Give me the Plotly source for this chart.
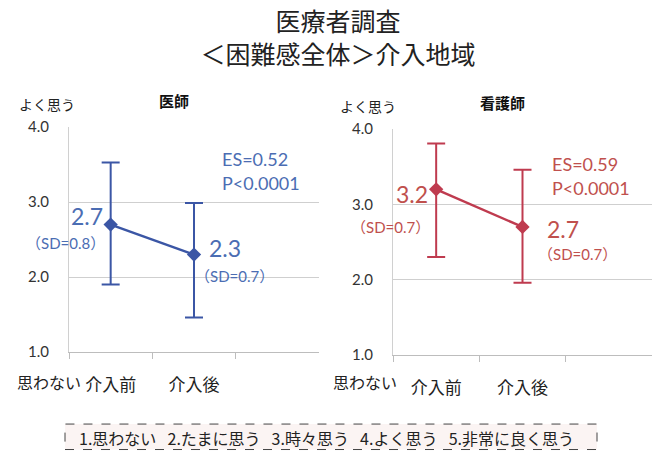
import plotly.graph_objects as go

# ---- data -------------------------------------------------------------
phases = ["介入前", "介入後"]
groups = ["医師", "看護師"]

doc_mean = [2.7, 2.3]
doc_sd = [0.8, 0.7]
doc_upper = [3.53, 2.99]
doc_lower = [1.90, 1.46]

nurse_mean = [3.2, 2.7]
nurse_sd = [0.7, 0.7]
nurse_upper = [3.81, 3.46]
nurse_lower = [2.30, 1.96]

effect_sizes = [0.52, 0.59]
p_values = ["P<0.0001", "P<0.0001"]

y_ticks = [1.0, 2.0, 3.0, 4.0]
scale_labels = ["1.思わない", "2.たまに思う", "3.時々思う", "4.よく思う", "5.非常に良く思う"]

# ---- styling ----------------------------------------------------------
W, H = 661, 458
JP = "Noto Sans CJK JP"
NUM = "Lato, Noto Sans CJK JP"
BLUE_LINE, BLUE_TEXT = "#3B56A5", "#4B6DB3"
RED_LINE, RED_TEXT = "#BF3B4F", "#C0504D"
GRID = "#CFCFCF"

categories = phases + [" "]


def px(xp):
    return xp / W


def py(yp):
    return 1 - yp / H


fig = go.Figure()

panels = [
    dict(mean=doc_mean, sd=doc_sd, up=doc_upper, lo=doc_lower, line=BLUE_LINE,
         text=BLUE_TEXT, xa="x", ya="y", xd=[69, 319], yd=[122, 356]),
    dict(mean=nurse_mean, sd=nurse_sd, up=nurse_upper, lo=nurse_lower, line=RED_LINE,
         text=RED_TEXT, xa="x2", ya="y2", xd=[393, 652], yd=[124, 359]),
]

for p in panels:
    fig.add_trace(go.Scatter(
        x=phases, y=p["mean"], mode="lines+markers",
        xaxis=p["xa"], yaxis=p["ya"],
        line=dict(color=p["line"], width=2.5),
        marker=dict(symbol="diamond", size=11, color=p["line"]),
        error_y=dict(type="data", symmetric=False,
                     array=[u - m for u, m in zip(p["up"], p["mean"])],
                     arrayminus=[m - l for m, l in zip(p["mean"], p["lo"])],
                     color=p["line"], thickness=2, width=9),
        showlegend=False, hoverinfo="skip", cliponaxis=False,
    ))

axis_common = dict(showgrid=False, zeroline=False)
for i, p in enumerate(panels):
    sfx = "" if i == 0 else str(i + 1)
    fig.update_layout(**{
        "xaxis" + sfx: dict(
            domain=[px(p["xd"][0]), px(p["xd"][1])], anchor="y" + sfx,
            type="category", categoryorder="array", categoryarray=categories,
            range=[-0.5, 2.5], tickson="boundaries", ticks="outside", ticklen=6,
            tickcolor="#BDBDBD", showline=True, linecolor="#BDBDBD", linewidth=1,
            tickfont=dict(family=JP, size=17, color="#222"), ticklabelstandoff=18,
            **axis_common),
        "yaxis" + sfx: dict(
            domain=[py(p["yd"][1]), py(p["yd"][0])], anchor="x" + sfx,
            range=[1, 4], tickvals=y_ticks, ticktext=[f"{v:.1f}" for v in y_ticks],
            showgrid=True, gridcolor=GRID, gridwidth=1, zeroline=False,
            showline=True, linecolor="#D0D0D0", linewidth=1,
            tickfont=dict(family=NUM, size=15, color="#333"), ticklabelstandoff=16),
    })

ann = []


def add(text, x, y, size, color, xanchor="center", font=JP, **kw):
    ann.append(dict(text=text, x=x, y=y, xanchor=xanchor, yanchor="middle",
                    showarrow=False, font=dict(family=font, size=size, color=color), **kw))


# panel headers, axis end labels
for p, g, lx, nx, hx in zip(panels, groups, [17, 338], [15, 331], [174, 502]):
    top = p["yd"][0]
    add(f"<b>{g}</b>", px(hx), py(top - 28), 15, "#111", xref="paper", yref="paper")
    add("よく思う", px(lx), py(top - 24), 14, "#222", xanchor="left", xref="paper", yref="paper")
    add("思わない", px(nx), py(387), 16, "#222", xanchor="left", xref="paper", yref="paper")

# value labels next to the markers: (value dx, value dy, sd dx, sd dy)
offsets = [
    [(-6, 9, -4, -18), (13, 7, -1, -21)],
    [(-6, -5, -4, -38), (22, -2, 13, -27)],
]
for p, offs in zip(panels, offsets):
    for k, (m, s) in enumerate(zip(p["mean"], p["sd"])):
        vx, vy, sx, sy = offs[k]
        anc = "right" if vx < 0 else "left"
        add(f"{m:.1f}", k, m, 23, p["text"], xanchor=anc, font=NUM,
            xref=p["xa"], yref=p["ya"], xshift=vx, yshift=vy)
        add(f"（SD={s:.1f}）", k, m, 15, p["text"], xanchor=anc, font=NUM,
            xref=p["xa"], yref=p["ya"], xshift=sx, yshift=sy)

# effect size / p value
for es, pv, p, ex, ey in zip(effect_sizes, p_values, panels, [220, 550], [155, 160]):
    add(f"ES={es:.2f}", px(ex), py(ey), 18, p["text"], xanchor="left", font=NUM,
        xref="paper", yref="paper")
    add(pv, px(ex), py(ey + 25), 18, p["text"], xanchor="left", font=NUM,
        xref="paper", yref="paper")

# response scale key
add("\u2002\u2009".join(scale_labels), px(326), py(446), 16, "#222", xref="paper", yref="paper")

fig.update_layout(
    width=W, height=H, margin=dict(l=0, r=0, t=0, b=0),
    paper_bgcolor="white", plot_bgcolor="white",
    title=dict(text="医療者調査<br>＜困難感全体＞介入地域", x=px(338), xanchor="center",
               y=py(22), yanchor="middle", yref="paper",
               font=dict(family=JP, size=25, color="#222")),
    annotations=ann,
    shapes=[dict(type="rect", xref="paper", yref="paper",
                 x0=px(65), x1=px(597), y0=py(457.5), y1=py(431),
                 line=dict(color="#444", width=1, dash="dash"),
                 fillcolor="#FBF4F3", layer="below")],
)

fig.write_html("out.html")
